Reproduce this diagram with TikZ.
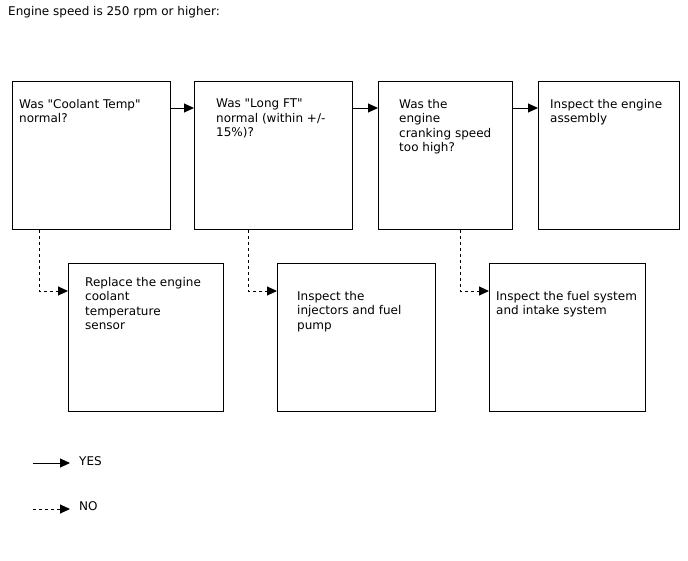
\documentclass[tikz,border=0pt]{standalone}
\usepackage{fontspec}
\setmainfont{DejaVu Sans}[Ligatures=TeXOff]
\usetikzlibrary{arrows.meta}
\begin{document}
\begin{tikzpicture}[x=1pt,y=-1pt,
  box/.style={draw,line width=1.2pt,rectangle,inner sep=0pt,anchor=north west},
  txt/.style={anchor=north west,inner sep=0pt,align=left,font=\fontsize{12}{14.4}\selectfont},
  yes/.style={line width=1pt,-{Triangle[length=10pt,width=9pt]}},
  no/.style={line width=1pt,dash pattern=on 3pt off 3pt,-{Triangle[length=10pt,width=9pt]}}]
\useasboundingbox (0,0) rectangle (688,560);
\node[txt] (title) at (8,6) {Engine speed is 250 rpm or higher:};
% top row
\node[box,minimum width=158pt,minimum height=148pt] (b1) at (12,81) {};
\node[box,minimum width=158pt,minimum height=148pt] (b2) at (194,81) {};
\node[box,minimum width=134pt,minimum height=148pt] (b3) at (378,81) {};
\node[box,minimum width=141pt,minimum height=148pt] (b4) at (538,81) {};
% bottom row
\node[box,minimum width=155pt,minimum height=148pt] (b5) at (68,263) {};
\node[box,minimum width=158pt,minimum height=148pt] (b6) at (277,263) {};
\node[box,minimum width=156pt,minimum height=148pt] (b7) at (489,263) {};
% texts
\node[txt] (t1) at (19,99) {Was "Coolant Temp"\\normal?};
\node[txt] (t2) at (216,99) {Was "Long FT"\\normal (within +/-\\15\%)?};
\node[txt] (t3) at (399,99) {Was the\\engine\\cranking speed\\too high?};
\node[txt] (t4) at (550,99) {Inspect the engine\\assembly};
\node[txt] (t5) at (85,277) {Replace the engine\\coolant\\temperature\\sensor};
\node[txt] (t6) at (297,291) {Inspect the\\injectors and fuel\\pump};
\node[txt] (t7) at (496,291) {Inspect the fuel system\\and intake system};
% yes arrows
\draw[yes] (b1.east |- 0,108) -- (b2.west |- 0,108);
\draw[yes] (b2.east |- 0,108) -- (b3.west |- 0,108);
\draw[yes] (b3.east |- 0,108) -- (b4.west |- 0,108);
% no arrows
\draw[no] (b1.south -| 39,0) |- (b5.west |- 0,291);
\draw[no] (b2.south -| 248,0) |- (b6.west |- 0,291);
\draw[no] (b3.south -| 460,0) |- (b7.west |- 0,291);
% legend
\coordinate (ly0) at (33,463);
\coordinate (ly1) at (70,463);
\coordinate (ln0) at (33,509);
\coordinate (ln1) at (70,509);
\draw[yes] (ly0) -- (ly1);
\draw[no] (ln0) -- (ln1);
\node[txt] (lyes) at (79,456) {YES};
\node[txt] (lno) at (79,501) {NO};
\end{tikzpicture}
\end{document}
